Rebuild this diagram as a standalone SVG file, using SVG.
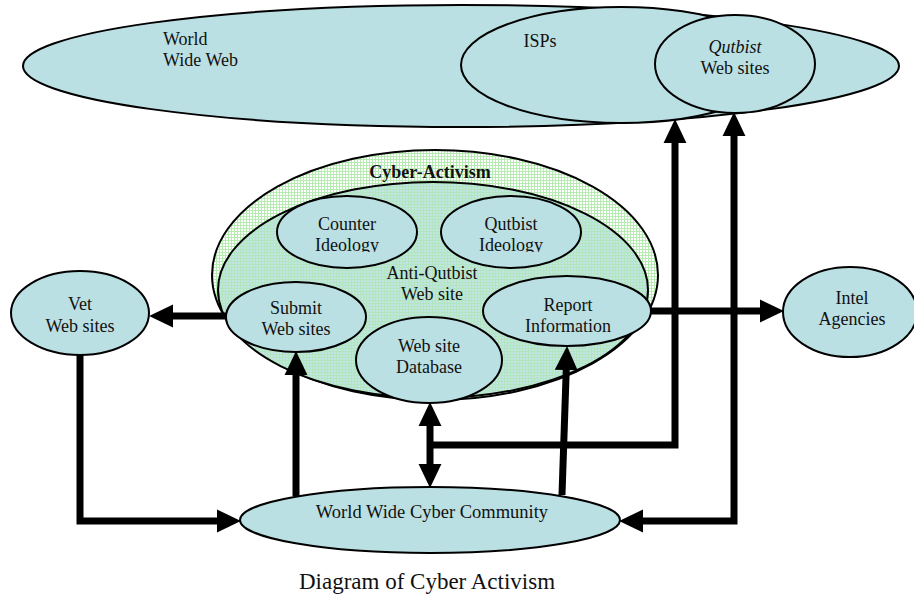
<svg xmlns="http://www.w3.org/2000/svg" width="914" height="596" viewBox="0 0 914 596">
<style>
.n{fill:#bbe0e3;stroke:#000;stroke-width:2}
.t{font-family:"Liberation Serif","Times New Roman",serif;font-size:18px;fill:#111;text-anchor:middle}
.c{fill:none;stroke:#000;stroke-width:7}
</style>
<defs>
<pattern id="g1" width="3" height="3" patternUnits="userSpaceOnUse"><rect width="3" height="3" fill="#ffffff"/><path d="M0 0.5H3M0.5 0V3" stroke="#b6ecb2" stroke-width="1"/></pattern>
<pattern id="g2" width="3" height="3" patternUnits="userSpaceOnUse"><rect width="3" height="3" fill="#c2e5e1"/><path d="M0 0.5H3M0.5 0V3" stroke="#b2e6c0" stroke-width="1"/></pattern>
<marker id="ah" markerUnits="userSpaceOnUse" markerWidth="24" markerHeight="24" viewBox="0 0 23 22" refX="2" refY="11" orient="auto-start-reverse"><path d="M0,0 L23,11 L0,22 z" fill="#000"/></marker>
<clipPath id="cl1"><rect x="270" y="190" width="160" height="62"/></clipPath>
<clipPath id="cl2"><rect x="435" y="190" width="160" height="62"/></clipPath>
</defs>
<g id="www"><ellipse class="n" cx="461" cy="66" rx="438" ry="61"/>
<text class="t" x="163" y="45" style="text-anchor:start">World</text>
<text class="t" x="163" y="66" style="text-anchor:start">Wide Web</text></g>
<g id="isps"><ellipse class="n" cx="621" cy="65" rx="160" ry="58"/>
<text class="t" x="540" y="47">ISPs</text></g>
<g id="qutbist-sites"><ellipse class="n" cx="735" cy="64" rx="80" ry="49"/>
<text class="t" x="735" y="53" font-style="italic">Qutbist</text>
<text class="t" x="735" y="74">Web sites</text></g>
<g id="cyber-activism"><ellipse cx="435" cy="275" rx="223" ry="125" fill="url(#g1)" stroke="#000" stroke-width="2"/>
<text class="t" x="430" y="178" font-weight="bold">Cyber-Activism</text></g>
<g id="anti-qutbist"><ellipse cx="433" cy="290" rx="215" ry="108" fill="url(#g2)" stroke="#000" stroke-width="2"/>
<text class="t" x="432" y="279">Anti-Qutbist</text>
<text class="t" x="432" y="300">Web site</text></g>
<g id="connectors">
<path class="c" d="M226,316 H171" marker-end="url(#ah)"/>
<path class="c" d="M80,354 V521 H219" marker-end="url(#ah)"/>
<path class="c" d="M296,496 V373" marker-end="url(#ah)"/>
<path class="c" d="M562,495 L566.3,368" marker-end="url(#ah)"/>
<path class="c" d="M430,424 V466" marker-start="url(#ah)" marker-end="url(#ah)"/>
<path class="c" d="M427,445 H675 V141" marker-end="url(#ah)"/>
<path class="c" d="M641,521 H734 V134" marker-start="url(#ah)" marker-end="url(#ah)"/>
<path class="c" d="M651,311 H762" marker-end="url(#ah)"/>
</g>
<g id="counter-ideology"><ellipse class="n" cx="347" cy="232" rx="70" ry="36"/>
<g clip-path="url(#cl1)"><text class="t" x="347" y="230">Counter</text><text class="t" x="347" y="251">Ideology</text></g></g>
<g id="qutbist-ideology"><ellipse class="n" cx="511" cy="232" rx="70" ry="36"/>
<g clip-path="url(#cl2)"><text class="t" x="511" y="230">Qutbist</text><text class="t" x="511" y="251">Ideology</text></g></g>
<g id="submit"><ellipse class="n" cx="296" cy="317" rx="70" ry="35"/>
<text class="t" x="296" y="314">Submit</text><text class="t" x="296" y="335">Web sites</text></g>
<g id="report"><ellipse class="n" cx="567" cy="311" rx="84" ry="35"/>
<text class="t" x="568" y="311">Report</text><text class="t" x="568" y="332">Information</text></g>
<g id="database"><ellipse class="n" cx="429" cy="360" rx="73" ry="43"/>
<text class="t" x="429" y="352">Web site</text><text class="t" x="429" y="373">Database</text></g>
<g id="vet"><ellipse class="n" cx="80" cy="313" rx="69" ry="42"/>
<text class="t" x="80" y="310">Vet</text><text class="t" x="80" y="332">Web sites</text></g>
<g id="intel"><ellipse class="n" cx="850" cy="312" rx="67" ry="45"/>
<text class="t" x="852" y="304">Intel</text><text class="t" x="852" y="325">Agencies</text></g>
<g id="community"><ellipse class="n" cx="430" cy="520" rx="190" ry="33"/>
<text class="t" x="432" y="518" style="font-size:18.5px">World Wide Cyber Community</text></g>
<text class="t" x="427" y="589" style="font-size:23px">Diagram of Cyber Activism</text>
</svg>
